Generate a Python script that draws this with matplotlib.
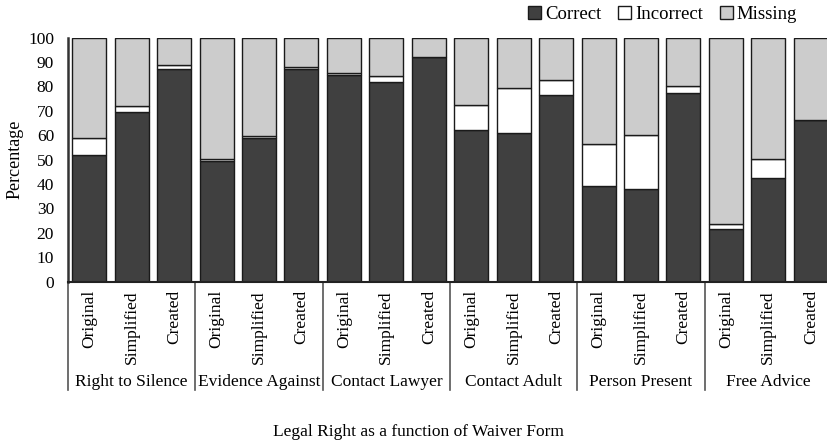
import numpy as np
import matplotlib
matplotlib.use('Agg')
import matplotlib.pyplot as plt

plt.rcParams['font.family'] = ['Liberation Serif', 'DejaVu Serif']

# data
rights = ['Right to Silence', 'Evidence Against', 'Contact Lawyer',
          'Contact Adult', 'Person Present', 'Free Advice']
forms = ['Original', 'Simplified', 'Created']

correct = [52, 69.7, 87.2,
           49.5, 59, 87.2,
           84.7, 82, 92.1,
           62, 61.1, 76.6,
           39.3, 38, 77.5,
           21.6, 42.7, 66.3]
incorrect = [7, 2.4, 1.6,
             0.8, 0.7, 0.8,
             0.8, 2.2, 0,
             10.4, 18.1, 5.9,
             17, 22.1, 2.5,
             1.9, 7.4, 0]
missing = [100 - c - i for c, i in zip(correct, incorrect)]

fig = plt.figure(figsize=(8.27, 4.40), dpi=100)
W, H = 827, 440
ax = fig.add_axes([68 / W, (H - 281.7) / H, (832 - 68) / W, 244 / H])

x = np.arange(len(correct))
edge = '#1a1a1a'
ax.bar(x, correct, 0.8, color='#404040', edgecolor=edge, linewidth=1, label='Correct')
ax.bar(x, incorrect, 0.8, bottom=correct, color='white', edgecolor=edge, linewidth=1, label='Incorrect')
ax.bar(x, missing, 0.8, bottom=np.add(correct, incorrect), color='#cccccc', edgecolor=edge,
       linewidth=1, label='Missing')

ax.set_xlim(-0.5, len(correct) - 0.5)
ax.set_ylim(0, 100)
ax.set_yticks(range(0, 101, 10))
ax.tick_params(axis='y', length=0, labelsize=12.5, pad=10)
ax.set_xticks([])
for s in ['top', 'right']:
    ax.spines[s].set_visible(False)
ax.spines['left'].set_color('#333333')
ax.spines['left'].set_linewidth(1.8)
ax.spines['bottom'].set_color('#222222')
ax.spines['bottom'].set_linewidth(1.5)
ax.set_ylabel('Percentage', fontsize=13, labelpad=3)

trans = ax.get_xaxis_transform()
for k in range(len(x)):
    ax.text(x[k], -0.035, forms[k % 3], rotation=90, ha='center', va='top',
            fontsize=12.5, transform=trans)
for g, name in enumerate(rights):
    ax.text(g * 3 + 1, -0.41, name, ha='center', va='center', fontsize=12.5, transform=trans)
for b in range(len(rights) + 1):
    ax.plot([b * 3 - 0.5] * 2, [0, -0.445], color='#555555', lw=1.2,
            transform=trans, clip_on=False)

fig.text(418 / W, 1 - 432 / H, 'Legal Right as a function of Waiver Form',
         ha='center', va='center', fontsize=12.5)

fig.legend(loc='upper right', bbox_to_anchor=(814 / W, 1.025), ncol=3, frameon=False,
           fontsize=13.5, handlelength=0.7, handleheight=0.7, handletextpad=0.2,
           columnspacing=0.9)

fig.savefig('out.png', dpi=100)
